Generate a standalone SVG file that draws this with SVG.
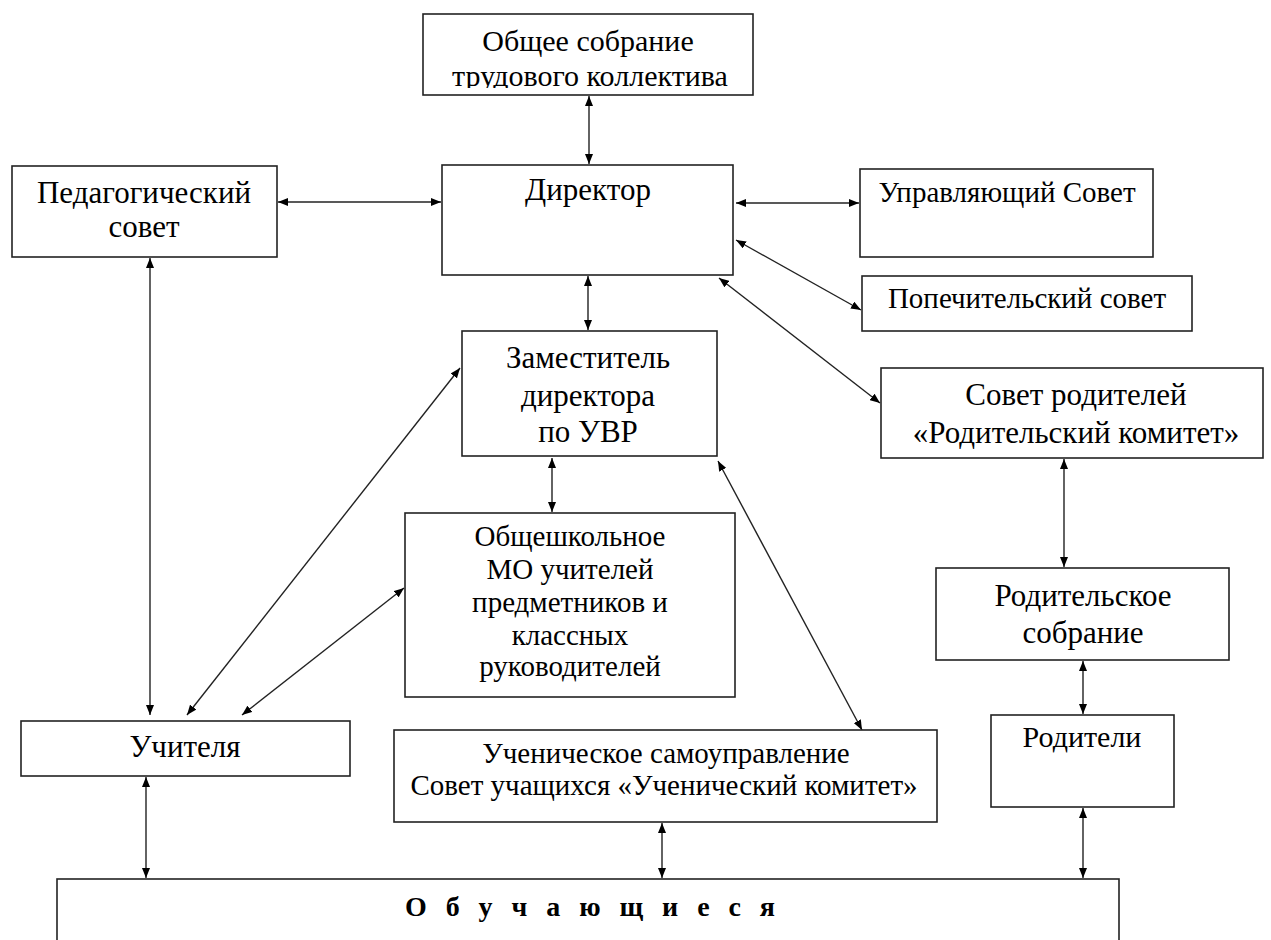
<svg xmlns="http://www.w3.org/2000/svg" width="1271" height="940" viewBox="0 0 1271 940">
<style>
.box{fill:#fff;stroke:#222;stroke-width:1.6}
text{font-family:'Liberation Serif','DejaVu Serif',serif;fill:#000;text-anchor:middle}
.c{fill:none;stroke:#222;stroke-width:1.4;marker-start:url(#ah);marker-end:url(#ah)}
</style>
<defs>
<marker id="ah" viewBox="0 0 10 8" refX="10" refY="4" markerWidth="10" markerHeight="8" markerUnits="userSpaceOnUse" orient="auto-start-reverse">
<path d="M0,0 L10,4 L0,8 z" fill="#000"/>
</marker>
<clipPath id="topclip"><rect x="423" y="14" width="330" height="74"/></clipPath>
</defs>
<rect width="1271" height="940" fill="#fff"/>

<g id="connectors">
<line class="c" x1="589" y1="96" x2="589" y2="164"/>
<line class="c" x1="278" y1="202" x2="441" y2="202"/>
<line class="c" x1="736" y1="203" x2="859" y2="203"/>
<line class="c" x1="736" y1="240" x2="861" y2="310"/>
<line class="c" x1="719" y1="278" x2="880" y2="403"/>
<line class="c" x1="588" y1="276" x2="588" y2="330"/>
<line class="c" x1="150" y1="258" x2="150" y2="715"/>
<line class="c" x1="460" y1="368" x2="187" y2="715"/>
<line class="c" x1="404" y1="588" x2="242" y2="715"/>
<line class="c" x1="552" y1="458" x2="552" y2="512"/>
<line class="c" x1="718" y1="461" x2="862" y2="730"/>
<line class="c" x1="1064" y1="459" x2="1064" y2="567"/>
<line class="c" x1="1083" y1="661" x2="1083" y2="714"/>
<line class="c" x1="146" y1="777" x2="146" y2="878"/>
<line class="c" x1="662" y1="823" x2="662" y2="878"/>
<line class="c" x1="1083" y1="808" x2="1083" y2="878"/>
</g>

<g id="n-sobranie">
<rect class="box" x="423" y="14" width="330" height="81"/>
<g clip-path="url(#topclip)">
<text x="588" y="51" font-size="30" font-family="Liberation Serif, serif">Общее собрание</text>
<text x="590" y="86" font-size="30" font-family="Liberation Serif, serif">трудового коллектива</text>
</g>
</g>

<g id="n-pedsovet">
<rect class="box" x="12" y="166" width="265" height="91"/>
<text x="144" y="203" font-size="31" font-family="Liberation Serif, serif">Педагогический</text>
<text x="144" y="237" font-size="31" font-family="Liberation Serif, serif">совет</text>
</g>

<g id="n-director">
<rect class="box" x="442" y="165" width="291" height="110"/>
<text x="588" y="200" font-size="31" font-family="Liberation Serif, serif">Директор</text>
</g>

<g id="n-upravl">
<rect class="box" x="860" y="169" width="293" height="88"/>
<text x="1007" y="202" font-size="29" font-family="Liberation Serif, serif">Управляющий Совет</text>
</g>

<g id="n-popech">
<rect class="box" x="862" y="276" width="330" height="55"/>
<text x="1027" y="308" font-size="29" font-family="Liberation Serif, serif">Попечительский совет</text>
</g>

<g id="n-zam">
<rect class="box" x="462" y="331" width="255" height="125"/>
<text x="588" y="368" font-size="31" font-family="Liberation Serif, serif">Заместитель</text>
<text x="588" y="406" font-size="31" font-family="Liberation Serif, serif">директора</text>
<text x="588" y="442" font-size="31" font-family="Liberation Serif, serif">по УВР</text>
</g>

<g id="n-sovetrod">
<rect class="box" x="881" y="368" width="382" height="90"/>
<text x="1076" y="405" font-size="31" font-family="Liberation Serif, serif">Совет родителей</text>
<text x="1076" y="443" font-size="31" font-family="Liberation Serif, serif">«Родительский комитет»</text>
</g>

<g id="n-mo">
<rect class="box" x="405" y="513" width="330" height="184"/>
<text x="570" y="546" font-size="29" font-family="Liberation Serif, serif">Общешкольное</text>
<text x="570" y="579" font-size="29" font-family="Liberation Serif, serif">МО учителей</text>
<text x="570" y="612" font-size="29" font-family="Liberation Serif, serif">предметников и</text>
<text x="570" y="645" font-size="29" font-family="Liberation Serif, serif">классных</text>
<text x="570" y="676" font-size="29" font-family="Liberation Serif, serif">руководителей</text>
</g>

<g id="n-rodsobr">
<rect class="box" x="936" y="568" width="293" height="92"/>
<text x="1083" y="606" font-size="31" font-family="Liberation Serif, serif">Родительское</text>
<text x="1083" y="643" font-size="31" font-family="Liberation Serif, serif">собрание</text>
</g>

<g id="n-uchitelya">
<rect class="box" x="21" y="721" width="329" height="55"/>
<text x="185" y="757" font-size="31" font-family="Liberation Serif, serif">Учителя</text>
</g>

<g id="n-uchenich">
<rect class="box" x="394" y="730" width="543" height="92"/>
<text x="666" y="763" font-size="29" font-family="Liberation Serif, serif">Ученическое самоуправление</text>
<text x="664" y="795" font-size="29" font-family="Liberation Serif, serif">Совет учащихся «Ученический комитет»</text>
</g>

<g id="n-roditeli">
<rect class="box" x="991" y="715" width="183" height="92"/>
<text x="1082" y="747" font-size="30" font-family="Liberation Serif, serif">Родители</text>
</g>

<g id="n-obuch">
<rect class="box" x="57" y="879" width="1062" height="80"/>
<text x="590" y="916" font-size="28" font-weight="bold" font-family="Liberation Serif, serif" textLength="370" lengthAdjust="spacing">О б у ч а ю щ и е с я</text>
</g>
</svg>
